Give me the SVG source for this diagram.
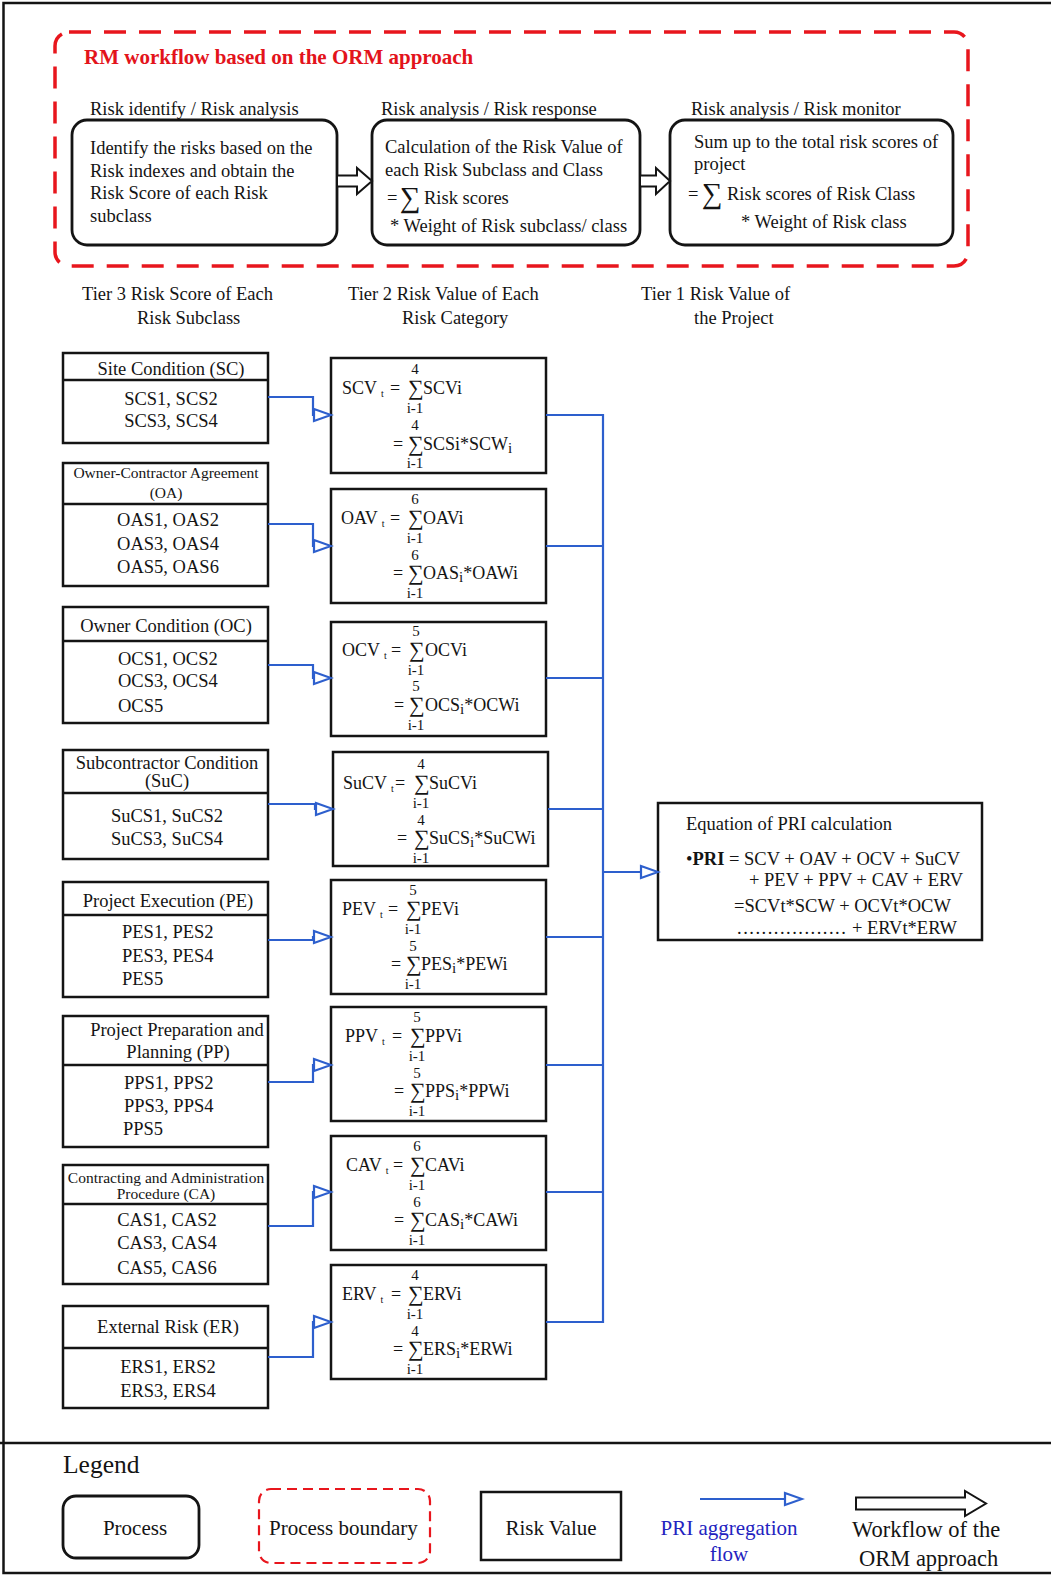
<svg xmlns="http://www.w3.org/2000/svg" width="1051" height="1575" viewBox="0 0 1051 1575">
<style>
  .t{font-family:"Liberation Serif","Times New Roman",serif;font-size:18.5px;fill:#141414}
  .b{font-weight:bold}
  .red{fill:#e3131b}
  .mid{text-anchor:middle}
  .sm{font-size:15.5px}
  .eq{font-size:18px}
  .lim{font-size:15px;text-anchor:middle}
  .sig{font-size:22px}
  .bigsig{font-size:29px}
  .sub{font-size:10px}
  .sub2{font-size:15px}
  .leg{font-size:21px}
  .legb{font-size:22.5px}
  .blue{fill:#2323c0}
  .box{fill:#fff;stroke:#141414;stroke-width:2.5}
  .proc{fill:#fff;stroke:#141414;stroke-width:2.8}
  .div{stroke:#141414;stroke-width:2.5}
  .bound{fill:none;stroke:#e8161d;stroke-width:3.5;stroke-dasharray:22 13}
  .flow{fill:none;stroke:#2d5fcd;stroke-width:2.2}
  .hollow{fill:#fff;stroke:#141414;stroke-width:2}
</style>
<defs>
  <marker id="tri" markerUnits="userSpaceOnUse" viewBox="0 0 22 16" markerWidth="22" markerHeight="16" refX="19" refY="8" orient="auto">
    <path d="M2,2 L19,8 L2,14 Z" fill="#fff" stroke="#2d5fcd" stroke-width="2.2"/>
  </marker>
</defs>

<rect width="1051" height="1575" fill="#fff"/>
<!-- outer frame -->
<rect x="3.5" y="3" width="1060" height="1570" fill="none" stroke="#141414" stroke-width="2.5"/>

<!-- ORM workflow boundary -->
<g id="orm-workflow">
  <rect class="bound" x="55" y="32" width="913" height="234" rx="14"/>
  <text class="t b red" x="84" y="64" style="font-size:21px">RM workflow based on the ORM approach</text>
  <text class="t" x="90" y="115">Risk identify / Risk analysis</text>
  <text class="t" x="381" y="115">Risk analysis / Risk response</text>
  <text class="t" x="691" y="115">Risk analysis / Risk monitor</text>
</g>

<g id="proc-identify">
  <rect class="proc" x="72" y="120" width="265" height="125" rx="15"/>
  <text class="t" x="90" y="154">Identify the risks based on the</text>
  <text class="t" x="90" y="177">Risk indexes and obtain the</text>
  <text class="t" x="90" y="199">Risk Score of each Risk</text>
  <text class="t" x="90" y="222">subclass</text>
</g>
<g id="proc-calc">
  <rect class="proc" x="372" y="120" width="268" height="125" rx="15"/>
  <text class="t" x="385" y="153">Calculation of the Risk Value of</text>
  <text class="t" x="385" y="176">each Risk Subclass and Class</text>
  <text class="t" x="387" y="204">=</text>
  <text class="t bigsig" x="400" y="207">∑</text>
  <text class="t" x="424" y="204">Risk scores</text>
  <text class="t" x="390" y="232">* Weight of Risk subclass/ class</text>
</g>
<g id="proc-sum">
  <rect class="proc" x="670" y="120" width="283" height="125" rx="15"/>
  <text class="t" x="694" y="148">Sum up to the total risk scores of</text>
  <text class="t" x="694" y="170">project</text>
  <text class="t" x="688" y="200">=</text>
  <text class="t bigsig" x="702" y="203">∑</text>
  <text class="t" x="727" y="200">Risk scores of Risk Class</text>
  <text class="t" x="741" y="228">* Weight of Risk class</text>
</g>
<g id="workflow-arrows">
  <polygon class="hollow" points="337,175.5 357,175.5 357,168 372,181 357,194 357,186.5 337,186.5"/>
  <polygon class="hollow" points="640,175.5 656,175.5 656,168 670,181 656,194 656,186.5 640,186.5"/>
</g>

<!-- tier headings -->
<g id="tier-labels">
  <text class="t" x="82" y="300">Tier 3 Risk Score of Each</text>
  <text class="t" x="137" y="324">Risk Subclass</text>
  <text class="t" x="348" y="300">Tier 2 Risk Value of Each</text>
  <text class="t" x="402" y="324">Risk Category</text>
  <text class="t" x="641" y="300">Tier 1 Risk Value of</text>
  <text class="t" x="694" y="324">the Project</text>
</g>

<!-- Tier 3: risk subclasses -->
<g id="sc">
  <rect class="box" x="63" y="353" width="205" height="90"/>
  <line class="div" x1="63" y1="380" x2="268" y2="380"/>
  <text class="t mid" x="171" y="375">Site Condition (SC)</text>
  <text class="t mid" x="171" y="405">SCS1, SCS2</text>
  <text class="t mid" x="171" y="427">SCS3, SCS4</text>
</g>
<g id="oa">
  <rect class="box" x="63" y="463" width="205" height="123"/>
  <line class="div" x1="63" y1="504" x2="268" y2="504"/>
  <text class="t sm mid" x="166" y="478">Owner-Contractor Agreement</text>
  <text class="t sm mid" x="166" y="498">(OA)</text>
  <text class="t mid" x="168" y="526">OAS1, OAS2</text>
  <text class="t mid" x="168" y="550">OAS3, OAS4</text>
  <text class="t mid" x="168" y="573">OAS5, OAS6</text>
</g>
<g id="oc">
  <rect class="box" x="63" y="607" width="205" height="116"/>
  <line class="div" x1="63" y1="641" x2="268" y2="641"/>
  <text class="t mid" x="166" y="632">Owner Condition (OC)</text>
  <text class="t" x="118" y="665">OCS1, OCS2</text>
  <text class="t" x="118" y="687">OCS3, OCS4</text>
  <text class="t" x="118" y="712">OCS5</text>
</g>
<g id="suc">
  <rect class="box" x="63" y="750" width="205" height="109"/>
  <line class="div" x1="63" y1="793" x2="268" y2="793"/>
  <text class="t mid" x="167" y="769">Subcontractor Condition</text>
  <text class="t mid" x="167" y="787">(SuC)</text>
  <text class="t mid" x="167" y="822">SuCS1, SuCS2</text>
  <text class="t mid" x="167" y="845">SuCS3, SuCS4</text>
</g>
<g id="pe">
  <rect class="box" x="63" y="882" width="205" height="115"/>
  <line class="div" x1="63" y1="915" x2="268" y2="915"/>
  <text class="t mid" x="168" y="907">Project Execution (PE)</text>
  <text class="t" x="122" y="938">PES1, PES2</text>
  <text class="t" x="122" y="962">PES3, PES4</text>
  <text class="t" x="122" y="985">PES5</text>
</g>
<g id="pp">
  <rect class="box" x="63" y="1016" width="205" height="131"/>
  <line class="div" x1="63" y1="1065" x2="268" y2="1065"/>
  <text class="t mid" x="177" y="1036">Project Preparation and</text>
  <text class="t mid" x="178" y="1058">Planning (PP)</text>
  <text class="t" x="124" y="1089">PPS1, PPS2</text>
  <text class="t" x="124" y="1112">PPS3, PPS4</text>
  <text class="t" x="123" y="1135">PPS5</text>
</g>
<g id="ca">
  <rect class="box" x="63" y="1165" width="205" height="119"/>
  <line class="div" x1="63" y1="1204" x2="268" y2="1204"/>
  <text class="t sm mid" x="166" y="1183">Contracting and Administration</text>
  <text class="t sm mid" x="166" y="1199">Procedure (CA)</text>
  <text class="t mid" x="167" y="1226">CAS1, CAS2</text>
  <text class="t mid" x="167" y="1249">CAS3, CAS4</text>
  <text class="t mid" x="167" y="1274">CAS5, CAS6</text>
</g>
<g id="er">
  <rect class="box" x="63" y="1306" width="205" height="102"/>
  <line class="div" x1="63" y1="1348" x2="268" y2="1348"/>
  <text class="t mid" x="168" y="1333">External Risk (ER)</text>
  <text class="t mid" x="168" y="1373">ERS1, ERS2</text>
  <text class="t mid" x="168" y="1397">ERS3, ERS4</text>
</g>

<!-- Tier 2: risk values per category -->
<g id="scv" transform="translate(331,358)">
  <rect class="box" width="215" height="115"/>
  <text class="t eq" x="11" y="36">SCV<tspan class="sub" dx="4" dy="3">t</tspan></text>
  <text class="t eq" x="59" y="36">=</text>
  <text class="t sig" x="77" y="37">∑</text>
  <text class="t lim" x="84" y="16">4</text>
  <text class="t eq" x="92" y="36">SCVi</text>
  <text class="t lim" x="84" y="55">i-1</text>
  <text class="t lim" x="84" y="72">4</text>
  <text class="t eq" x="62" y="92">=</text>
  <text class="t sig" x="77" y="93">∑</text>
  <text class="t eq" x="92" y="92">SCSi*SCW<tspan class="sub2" dy="3">i</tspan></text>
  <text class="t lim" x="84" y="110">i-1</text>
</g>
<g id="oav" transform="translate(331,489)">
  <rect class="box" width="215" height="114"/>
  <text class="t eq" x="10" y="35">OAV<tspan class="sub" dx="4" dy="3">t</tspan></text>
  <text class="t eq" x="59" y="35">=</text>
  <text class="t sig" x="77" y="36">∑</text>
  <text class="t lim" x="84" y="15">6</text>
  <text class="t eq" x="92" y="35">OAVi</text>
  <text class="t lim" x="84" y="54">i-1</text>
  <text class="t lim" x="84" y="71">6</text>
  <text class="t eq" x="62" y="90">=</text>
  <text class="t sig" x="77" y="91">∑</text>
  <text class="t eq" x="92" y="90">OAS<tspan class="sub2" dy="3">i</tspan><tspan dy="-3">*OAWi</tspan></text>
  <text class="t lim" x="84" y="109">i-1</text>
</g>
<g id="ocv" transform="translate(331,622)">
  <rect class="box" width="215" height="114"/>
  <text class="t eq" x="11" y="34">OCV<tspan class="sub" dx="4" dy="3">t</tspan></text>
  <text class="t eq" x="60" y="34">=</text>
  <text class="t sig" x="78" y="35">∑</text>
  <text class="t lim" x="85" y="14">5</text>
  <text class="t eq" x="94" y="34">OCVi</text>
  <text class="t lim" x="85" y="53">i-1</text>
  <text class="t lim" x="85" y="69">5</text>
  <text class="t eq" x="63" y="89">=</text>
  <text class="t sig" x="78" y="90">∑</text>
  <text class="t eq" x="94" y="89">OCS<tspan class="sub2" dy="3">i</tspan><tspan dy="-3">*OCWi</tspan></text>
  <text class="t lim" x="85" y="108">i-1</text>
</g>
<g id="sucv" transform="translate(333,752)">
  <rect class="box" width="215" height="114"/>
  <text class="t eq" x="10" y="37">SuCV<tspan class="sub" dx="4" dy="3">t</tspan></text>
  <text class="t eq" x="62" y="37">=</text>
  <text class="t sig" x="81" y="38">∑</text>
  <text class="t lim" x="88" y="17">4</text>
  <text class="t eq" x="96" y="37">SuCVi</text>
  <text class="t lim" x="88" y="56">i-1</text>
  <text class="t lim" x="88" y="73">4</text>
  <text class="t eq" x="64" y="92">=</text>
  <text class="t sig" x="81" y="93">∑</text>
  <text class="t eq" x="96" y="92">SuCS<tspan class="sub2" dy="3">i</tspan><tspan dy="-3">*SuCWi</tspan></text>
  <text class="t lim" x="88" y="111">i-1</text>
</g>
<g id="pev" transform="translate(331,880)">
  <rect class="box" width="215" height="114"/>
  <text class="t eq" x="11" y="35">PEV<tspan class="sub" dx="4" dy="3">t</tspan></text>
  <text class="t eq" x="57" y="35">=</text>
  <text class="t sig" x="75" y="36">∑</text>
  <text class="t lim" x="82" y="15">5</text>
  <text class="t eq" x="90" y="35">PEVi</text>
  <text class="t lim" x="82" y="54">i-1</text>
  <text class="t lim" x="82" y="71">5</text>
  <text class="t eq" x="60" y="90">=</text>
  <text class="t sig" x="75" y="91">∑</text>
  <text class="t eq" x="90" y="90">PES<tspan class="sub2" dy="3">i</tspan><tspan dy="-3">*PEWi</tspan></text>
  <text class="t lim" x="82" y="109">i-1</text>
</g>
<g id="ppv" transform="translate(331,1007)">
  <rect class="box" width="215" height="114"/>
  <text class="t eq" x="14" y="35">PPV<tspan class="sub" dx="4" dy="3">t</tspan></text>
  <text class="t eq" x="61" y="35">=</text>
  <text class="t sig" x="79" y="36">∑</text>
  <text class="t lim" x="86" y="15">5</text>
  <text class="t eq" x="94" y="35">PPVi</text>
  <text class="t lim" x="86" y="54">i-1</text>
  <text class="t lim" x="86" y="71">5</text>
  <text class="t eq" x="63" y="90">=</text>
  <text class="t sig" x="79" y="91">∑</text>
  <text class="t eq" x="94" y="90">PPS<tspan class="sub2" dy="3">i</tspan><tspan dy="-3">*PPWi</tspan></text>
  <text class="t lim" x="86" y="109">i-1</text>
</g>
<g id="cav" transform="translate(331,1136)">
  <rect class="box" width="215" height="114"/>
  <text class="t eq" x="15" y="35">CAV<tspan class="sub" dx="4" dy="3">t</tspan></text>
  <text class="t eq" x="62" y="35">=</text>
  <text class="t sig" x="79" y="36">∑</text>
  <text class="t lim" x="86" y="15">6</text>
  <text class="t eq" x="94" y="35">CAVi</text>
  <text class="t lim" x="86" y="54">i-1</text>
  <text class="t lim" x="86" y="71">6</text>
  <text class="t eq" x="63" y="90">=</text>
  <text class="t sig" x="79" y="91">∑</text>
  <text class="t eq" x="94" y="90">CAS<tspan class="sub2" dy="3">i</tspan><tspan dy="-3">*CAWi</tspan></text>
  <text class="t lim" x="86" y="109">i-1</text>
</g>
<g id="erv" transform="translate(331,1265)">
  <rect class="box" width="215" height="114"/>
  <text class="t eq" x="11" y="35">ERV<tspan class="sub" dx="4" dy="3">t</tspan></text>
  <text class="t eq" x="60" y="35">=</text>
  <text class="t sig" x="77" y="36">∑</text>
  <text class="t lim" x="84" y="15">4</text>
  <text class="t eq" x="92" y="35">ERVi</text>
  <text class="t lim" x="84" y="54">i-1</text>
  <text class="t lim" x="84" y="71">4</text>
  <text class="t eq" x="62" y="90">=</text>
  <text class="t sig" x="77" y="91">∑</text>
  <text class="t eq" x="92" y="90">ERS<tspan class="sub2" dy="3">i</tspan><tspan dy="-3">*ERWi</tspan></text>
  <text class="t lim" x="84" y="109">i-1</text>
</g>

<!-- Tier 1: project risk index -->
<g id="pri">
  <rect class="box" x="658" y="803" width="324" height="137"/>
  <text class="t" x="686" y="830">Equation of PRI calculation</text>
  <text class="t" x="686" y="865">•<tspan class="b">PRI</tspan> = SCV + OAV + OCV + SuCV</text>
  <text class="t" x="749" y="886">+ PEV + PPV + CAV + ERV</text>
  <text class="t" x="734" y="912">=SCVt*SCW + OCVt*OCW</text>
  <text class="t" x="737" y="934"><tspan style="letter-spacing:1.5px">..................</tspan> + ERVt*ERW</text>
</g>

<!-- aggregation connectors -->
<g id="connectors" class="flow">
  <path d="M268,397 H313 V415 H331" marker-end="url(#tri)"/>
  <path d="M268,524 H313 V546 H331" marker-end="url(#tri)"/>
  <path d="M268,665 H313 V678 H331" marker-end="url(#tri)"/>
  <path d="M268,804 H315 V809 H333" marker-end="url(#tri)"/>
  <path d="M268,940 H313 V937 H331" marker-end="url(#tri)"/>
  <path d="M268,1082 H313 V1065 H331" marker-end="url(#tri)"/>
  <path d="M268,1226 H313 V1192 H331" marker-end="url(#tri)"/>
  <path d="M268,1357 H313 V1322 H331" marker-end="url(#tri)"/>
  <path d="M546,415 H603 V1322 H546"/>
  <path d="M546,546 H603"/>
  <path d="M546,678 H603"/>
  <path d="M548,809 H603"/>
  <path d="M546,937 H603"/>
  <path d="M546,1065 H603"/>
  <path d="M546,1192 H603"/>
  <path d="M603,872 H658" marker-end="url(#tri)"/>
</g>

<!-- legend -->
<g id="legend">
  <line x1="0" y1="1443" x2="1051" y2="1443" stroke="#141414" stroke-width="2.5"/>
  <text class="t" x="63" y="1473" style="font-size:25.5px">Legend</text>
  <rect class="proc" x="63" y="1496" width="136" height="62" rx="13"/>
  <text class="t leg mid" x="135" y="1535">Process</text>
  <rect x="259" y="1489" width="171" height="74" rx="12" fill="none" stroke="#e8161d" stroke-width="2.2" stroke-dasharray="10 6"/>
  <text class="t leg" x="269" y="1535">Process boundary</text>
  <rect class="box" x="481" y="1492" width="140" height="68"/>
  <text class="t leg mid" x="551" y="1535">Risk Value</text>
  <path class="flow" d="M700,1499 H802" marker-end="url(#tri)"/>
  <text class="t leg mid blue" x="729" y="1535">PRI aggregation</text>
  <text class="t leg mid blue" x="729" y="1561">flow</text>
  <polygon class="hollow" points="856,1497.5 965,1497.5 965,1491 986,1503.5 965,1516 965,1509.5 856,1509.5"/>
  <text class="t legb" x="852" y="1537">Workflow of the</text>
  <text class="t legb" x="859" y="1566">ORM approach</text>
</g>
</svg>
